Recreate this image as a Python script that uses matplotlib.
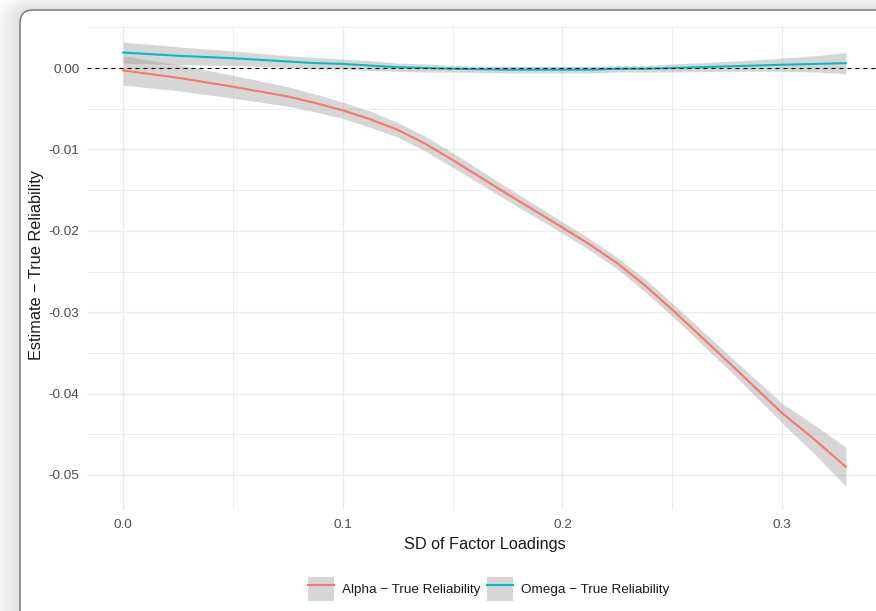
import matplotlib
matplotlib.use("Agg")
import matplotlib.pyplot as plt
import numpy as np
from matplotlib.patches import FancyBboxPatch, Patch
from matplotlib.lines import Line2D

plt.rcParams['font.family'] = ['Liberation Sans', 'DejaVu Sans']

# SD of factor loadings (x) and smoothed estimates
sd = [0.0, 0.025, 0.05, 0.075, 0.0875, 0.1, 0.1125, 0.125, 0.1375, 0.15,
      0.175, 0.2, 0.2125, 0.225, 0.2375, 0.25, 0.275, 0.3, 0.315, 0.329]
alpha_est = [-0.0003, -0.0012, -0.0023, -0.0035, -0.0043, -0.0052, -0.0063,
             -0.0076, -0.0093, -0.0113, -0.0155, -0.0196, -0.0217, -0.0240,
             -0.0267, -0.0297, -0.0360, -0.0424, -0.0457, -0.0490]
alpha_se = [0.0018, 0.0016, 0.0014, 0.0012, 0.0011, 0.0010, 0.0010, 0.0009,
            0.0009, 0.0009, 0.0008, 0.0007, 0.0007, 0.0007, 0.0008, 0.0008,
            0.0009, 0.0012, 0.0018, 0.0024]
omega_est = [0.0019, 0.0015, 0.0012, 0.0008, 0.0006, 0.0005, 0.0003, 0.0001,
             0.0000, -0.0001, -0.0002, -0.0002, -0.0002, -0.0001, -0.0001,
             0.0000, 0.0002, 0.0004, 0.0005, 0.0006]
omega_se = [0.0013, 0.0011, 0.0009, 0.0007, 0.0007, 0.0006, 0.0006, 0.0005,
            0.0005, 0.0004, 0.0004, 0.0004, 0.0004, 0.0004, 0.0004, 0.0005,
            0.0006, 0.0008, 0.0010, 0.0013]

series = ['Alpha \u2212 True Reliability', 'Omega \u2212 True Reliability']
colors = ['#F8766D', '#00BFC4']

xticks = [0.0, 0.1, 0.2, 0.3]
xlabels = ['0.0', '0.1', '0.2', '0.3']
yticks = [-0.05, -0.04, -0.03, -0.02, -0.01, 0.0]
ylabels = ['-0.05', '-0.04', '-0.03', '-0.02', '-0.01', '0.00']

W, H = 876, 611
fig = plt.figure(figsize=(W / 100, H / 100), dpi=100, facecolor='white')

# background: card with soft shadow, in pixel coords
bg = fig.add_axes([0, 0, 1, 1], zorder=0)
bg.set_xlim(0, W)
bg.set_ylim(H, 0)
bg.axis('off')
for k in range(1, 31):
    bg.add_patch(FancyBboxPatch((20 - k, 10 - 0.6 * k), 900 + 2 * k, 650 + k,
                                boxstyle="round,pad=0,rounding_size=%f" % (13 + k),
                                facecolor='black', edgecolor='none', alpha=0.0045))
bg.add_patch(FancyBboxPatch((20, 10), 900, 650, boxstyle="round,pad=0,rounding_size=13",
                            facecolor='white', edgecolor='#7a7a7a', lw=1.1))

ax = fig.add_axes([87 / W, (H - 510) / H, 795 / W, 484 / H], zorder=1)
ax.patch.set_alpha(0)

x = np.array(sd)
for est, se, col in [(alpha_est, alpha_se, colors[0]), (omega_est, omega_se, colors[1])]:
    est = np.array(est)
    se = np.array(se)
    ax.fill_between(x, est - se, est + se, color='#999999', alpha=0.4, lw=0, zorder=2)
    ax.plot(x, est, color=col, lw=1.5, zorder=3)

ax.axhline(0, color='black', lw=0.8, ls=(0, (3.6, 3.6)), zorder=4)

ax.set_xlim(-0.01645, 0.34545)
ax.set_ylim(-0.0543, 0.00516)
ax.set_xticks(xticks)
ax.set_xticklabels(xlabels)
ax.set_yticks(yticks)
ax.set_yticklabels(ylabels)
ax.set_xticks([0.05, 0.15, 0.25], minor=True)
ax.set_yticks([-0.045, -0.035, -0.025, -0.015, -0.005, 0.005], minor=True)
ax.grid(which='major', color='#ebebeb', lw=1.0)
ax.grid(which='minor', color='#ededed', lw=0.7)
ax.set_axisbelow(True)
ax.tick_params(which='both', length=0)
ax.tick_params(axis='y', pad=5.5, labelsize=9.7, labelcolor='#4d4d4d')
ax.tick_params(axis='x', pad=6.5, labelsize=9.7, labelcolor='#4d4d4d')
for s in ax.spines.values():
    s.set_visible(False)

fig.text(484.5 / W, 1 - 545 / H, 'SD of Factor Loadings', ha='center', va='center',
         fontsize=11.7, color='#1a1a1a')
fig.text(36.5 / W, 1 - 265 / H, 'Estimate \u2212 True Reliability', ha='center',
         va='center', rotation=90, fontsize=11.7, color='#1a1a1a')

handles = [(Patch(facecolor='#d6d6d6', edgecolor='none'), Line2D([], [], color=c, lw=1.5))
           for c in colors]
fig.legend(handles, series, loc='center', bbox_to_anchor=(488.5 / W, 1 - 589 / H),
           ncol=2, frameon=False, fontsize=9.7, handlelength=1.9, handleheight=2.4,
           handletextpad=0.6, columnspacing=0.5, borderpad=0, labelcolor='#1a1a1a')

fig.savefig('out.png', dpi=100)
